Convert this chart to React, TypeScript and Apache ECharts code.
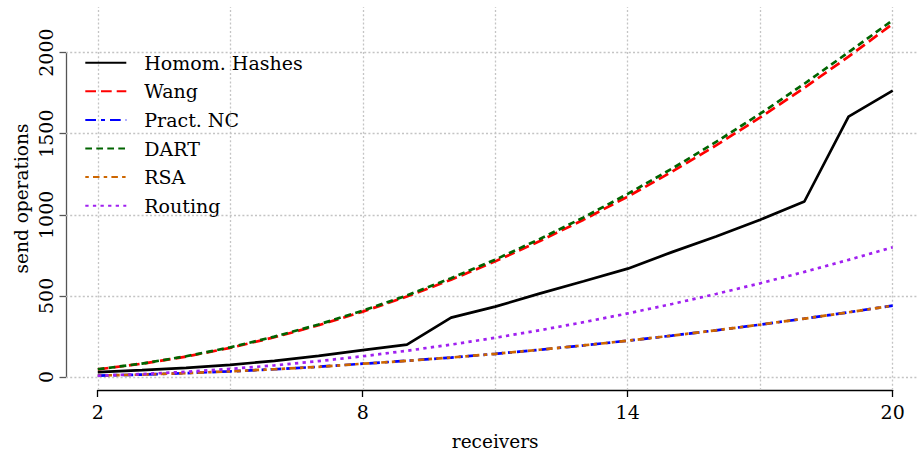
import React, { useEffect, useRef } from "react";
import * as echarts from "echarts";

// ---- data ----
const receivers = [2, 3, 4, 5, 6, 7, 8, 9, 10, 11, 12, 13, 14, 15, 16, 17, 18, 19, 20];
const homomHashes = [30, 42, 56, 75, 100, 130, 166, 200, 366, 434, 514, 590, 668, 770, 866, 970, 1082, 1605, 1765];
const wang = [47, 82, 126, 180, 245, 319, 403, 496, 600, 713, 837, 970, 1112, 1265, 1428, 1600, 1783, 1975, 2177];
const practNC = [9, 15, 24, 35, 48, 63, 82, 100, 120, 143, 168, 195, 224, 255, 288, 323, 360, 399, 440];
const dart = [48, 83, 128, 183, 249, 324, 409, 503, 609, 724, 850, 984, 1129, 1284, 1449, 1623, 1808, 2002, 2200];
const rsa = [9, 15, 24, 35, 48, 63, 82, 100, 120, 143, 168, 195, 224, 255, 288, 323, 360, 399, 440];
const routing = [8, 18, 32, 50, 72, 98, 128, 162, 200, 242, 288, 338, 392, 450, 512, 578, 648, 722, 800];

const xTickLabels = [2, 8, 14, 20];
const xGridValues = [2, 5, 8, 11, 14, 17, 20];
const yTickValues = [0, 500, 1000, 1500, 2000];

const seriesNames = ["Homom. Hashes", "Wang", "Pract. NC", "DART", "RSA", "Routing"];

const FONT = "DejaVu Serif";

export default function App() {
  const ref = useRef<HTMLDivElement>(null);

  useEffect(() => {
    document.body.style.margin = "0";
    const chart = echarts.init(ref.current!, null, { renderer: "svg" });
    const pair = (ys: number[]) => receivers.map((x, i) => [x, ys[i]]);

    const defs = [
      { name: seriesNames[0], data: homomHashes, color: "#000000", dash: "solid" as any },
      { name: seriesNames[1], data: wang, color: "#ff0000", dash: [10.7, 5] },
      { name: seriesNames[2], data: practNC, color: "#0000ff", dash: [10.7, 5, 4, 5] },
      { name: seriesNames[3], data: dart, color: "#006400", dash: [6.7, 4.3] },
      { name: seriesNames[4], data: rsa, color: "#cd6600", dash: [3.5, 4.2, 6.5, 4.2] },
      { name: seriesNames[5], data: routing, color: "#a020f0", dash: [3.3, 4.3] },
    ];

    const gridLineStyle = { color: "#c4c4c4", width: 1.3, type: [2, 2.2] };
    const tickText = { fontSize: 19, fontFamily: FONT, color: "#000" };
    const nameText = { fontSize: 18.5, fontFamily: FONT, color: "#000" };

    chart.setOption({
      animation: false,
      textStyle: { fontFamily: FONT },
      grid: [
        { left: 66, right: 0, top: 7, bottom: 66 },
        { left: 97.7, right: 24.3, top: 7, bottom: 66 },
        { left: 66, width: 10, top: 52.6, bottom: 79 },
      ],
      xAxis: [
        { gridIndex: 0, type: "value", min: 1.28, max: 20.55, show: false },
        {
          gridIndex: 1,
          type: "value",
          min: 2,
          max: 20,
          axisLine: { show: true, onZero: false, lineStyle: { color: "#000", width: 1.3 } },
          axisTick: { show: true, customValues: xTickLabels, length: 7, inside: false, lineStyle: { color: "#000", width: 1.3 } },
          axisLabel: { show: true, customValues: xTickLabels, margin: 12, ...tickText, formatter: (v: number) => String(v) },
          splitLine: { show: false },
          name: "receivers",
          nameLocation: "middle",
          nameGap: 42,
          nameTextStyle: nameText,
        },
        { gridIndex: 2, type: "value", show: false },
      ],
      yAxis: [
        {
          gridIndex: 0,
          type: "value",
          min: -80,
          max: 2281,
          axisLine: { show: false },
          axisTick: { show: false },
          axisLabel: { show: false },
          splitLine: { show: false },
          name: "send operations",
          nameLocation: "middle",
          nameGap: 35,
          nameRotate: 90,
          nameTextStyle: nameText,
        },
        { gridIndex: 1, type: "value", min: -80, max: 2281, show: false },
        {
          gridIndex: 2,
          type: "value",
          min: 0,
          max: 2000,
          interval: 500,
          axisLine: { show: true, onZero: false, lineStyle: { color: "#555", width: 1.3 } },
          axisTick: { show: true, length: 6.5, inside: false, lineStyle: { color: "#555", width: 1.3 } },
          axisLabel: { show: true, rotate: 90, margin: 11, ...tickText, formatter: (v: number) => String(v) },
          splitLine: { show: false },
        },
      ],
      legend: {
        orient: "vertical",
        left: 84.3,
        top: 51.2,
        padding: 0,
        itemWidth: 41,
        itemHeight: 14,
        itemGap: 5.6,
        selectedMode: false,
        data: seriesNames,
        itemStyle: { color: "rgba(0,0,0,0)", borderColor: "rgba(0,0,0,0)", borderWidth: 0, opacity: 0 },
        textStyle: { ...tickText, lineHeight: 23, padding: [0, 0, 0, 13] },
      },
      series: [
        {
          type: "line",
          name: "grid",
          xAxisIndex: 0,
          yAxisIndex: 0,
          data: [],
          silent: true,
          z: 1,
          markLine: {
            silent: true,
            z: 1,
            symbol: ["none", "none"],
            label: { show: false },
            lineStyle: gridLineStyle,
            emphasis: { disabled: true },
            data: [
              ...xGridValues.map((v) => ({ xAxis: v })),
              ...yTickValues.map((v) => ({ yAxis: v })),
            ],
          },
        },
        ...defs.map((d) => ({
          type: "line",
          name: d.name,
          xAxisIndex: 0,
          yAxisIndex: 0,
          data: pair(d.data),
          symbol: "none",
          showSymbol: false,
          z: 10,
          color: d.color,
          itemStyle: { color: d.color },
          lineStyle: { color: d.color, width: 2.7, type: d.dash },
          emphasis: { disabled: true },
        })),
      ],
    });

    return () => chart.dispose();
  }, []);

  return <div ref={ref} style={{ width: 917, height: 456 }} />;
}
